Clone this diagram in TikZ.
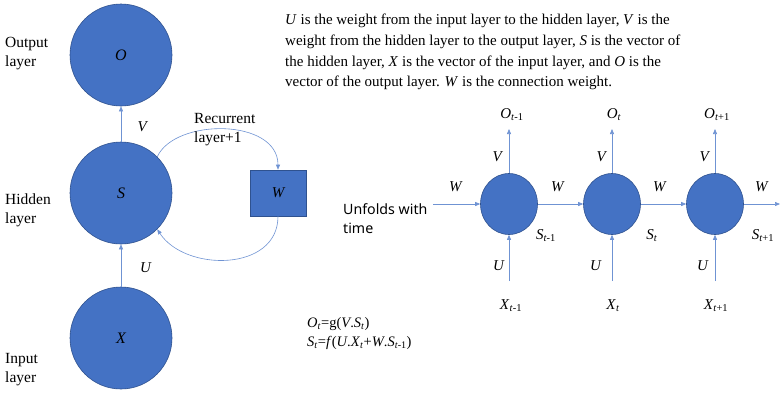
\documentclass[tikz,border=0pt]{standalone}
\usepackage{fontspec}
\setmainfont{Liberation Serif}
\newfontfamily\unfoldfont{Noto Sans}
\usetikzlibrary{arrows.meta,shapes.geometric}
\definecolor{officeblue}{HTML}{4472C4}
\definecolor{officeedge}{HTML}{2F528F}
\definecolor{linkblue}{HTML}{6F93D3}
% variable with time subscript, e.g. \tvar{O}{-1}
\newcommand{\tvar}[2]{\textit{#1}\textsubscript{\textit{t}#2}}

\begin{document}
\begin{tikzpicture}[x=1pt, y=-1pt,
  layer/.style={circle, fill=officeblue, draw=officeedge, line width=0.6pt, minimum size=102pt, inner sep=0pt, font=\itshape\fontsize{16}{18}\selectfont},
  cell/.style={ellipse, fill=officeblue, draw=officeedge, line width=0.6pt, minimum width=57pt, minimum height=61pt, inner sep=0pt},
  weight/.style={rectangle, fill=officeblue, draw=officeedge, line width=0.6pt, minimum width=56pt, minimum height=46pt, font=\itshape\fontsize{15}{17}\selectfont},
  side/.style={anchor=west, align=left, inner sep=0pt, font=\fontsize{15.5}{19}\selectfont},
  lbl/.style={inner sep=0pt, font=\fontsize{15}{17}\selectfont},
  flow/.style={-{Triangle[length=5pt,width=4pt]}, draw=linkblue, line width=0.6pt}
]
\useasboundingbox (0,0) rectangle (780,394);

% Folded network: three layers
\node[layer] (output) at (121,55) {O};
\node[layer] (hidden) at (121,193) {S};
\node[layer] (input) at (121,338) {X};
\node[weight] (wbox) at (278,193) {W};

% Layer names on the left
\node[side] (outname) at (5,54) {Output\\layer};
\node[side] (hidname) at (5,210) {Hidden\\layer};
\node[side] (inname) at (5,370) {Input\\layer};

% Vertical connections
\draw[flow] (hidden.north) -- (output.south);
\draw[flow] (input.north) -- (hidden.south);
\node[lbl] (vlab) at (143,127) {\textit{V}};
\node[lbl] (ulab) at (146,268) {\textit{U}};

% Recurrent loop through W
\draw[flow] (hidden.45) .. controls (175,118) and (278,118) .. (wbox.north);
\draw[flow] (wbox.south) .. controls (278,272) and (185,272) .. (hidden.-45);
\node[side] (reclab) at (194,130) {Recurrent\\layer+1};

% Description
\node[anchor=north west, align=left, inner sep=0pt, font=\fontsize{15}{20.7}\selectfont] (desc) at (285,14)
  {\textit{U} is the weight from the input layer to the hidden layer, \textit{V} is the\\
   weight from the hidden layer to the output layer, \textit{S} is the vector of\\
   the hidden layer, \textit{X} is the vector of the input layer, and \textit{O} is the\\
   vector of the output layer. \textit{W} is the connection weight.};

% Unfolded network
\node[side, font=\unfoldfont\fontsize{14.2}{19}\selectfont] (unfold) at (343,219) {Unfolds with\\time};
\coordinate (wstart) at (433,204);
\coordinate (wend) at (780,204);
\node[cell] (s1) at (509,204) {};
\node[cell] (s2) at (612,204) {};
\node[cell] (s3) at (715,204) {};

\draw[flow] (wstart) -- (s1.west);
\draw[flow] (s1.east) -- (s2.west);
\draw[flow] (s2.east) -- (s3.west);
\draw[flow] (s3.east) -- (wend);
\node[lbl] (w0) at (456,187) {\textit{W}};
\node[lbl] (w1) at (558,187) {\textit{W}};
\node[lbl] (w2) at (660,187) {\textit{W}};
\node[lbl] (w3) at (762,187) {\textit{W}};

% Outputs
\node[lbl] (o1) at (512,115) {\tvar{O}{-1}};
\node[lbl] (o2) at (614,115) {\tvar{O}{}};
\node[lbl] (o3) at (717,115) {\tvar{O}{+1}};
\coordinate (otip1) at (509,129);
\coordinate (otip2) at (612,129);
\coordinate (otip3) at (715,129);
\draw[flow] (s1.north) -- (otip1);
\draw[flow] (s2.north) -- (otip2);
\draw[flow] (s3.north) -- (otip3);
\node[lbl] (v1) at (498,157) {\textit{V}};
\node[lbl] (v2) at (602,157) {\textit{V}};
\node[lbl] (v3) at (705,157) {\textit{V}};

% Inputs
\coordinate (xfoot1) at (509,281);
\coordinate (xfoot2) at (612,281);
\coordinate (xfoot3) at (715,281);
\draw[flow] (xfoot1) -- (s1.south);
\draw[flow] (xfoot2) -- (s2.south);
\draw[flow] (xfoot3) -- (s3.south);
\node[lbl] (u1) at (499,266) {\textit{U}};
\node[lbl] (u2) at (596,266) {\textit{U}};
\node[lbl] (u3) at (703,266) {\textit{U}};
\node[lbl] (x1) at (511,306) {\tvar{X}{-1}};
\node[lbl] (x2) at (613,306) {\tvar{X}{}};
\node[lbl] (x3) at (716,306) {\tvar{X}{+1}};

% Hidden states
\node[lbl] (st1) at (546,236) {\tvar{S}{-1}};
\node[lbl] (st2) at (652,236) {\tvar{S}{}};
\node[lbl] (st3) at (763,236) {\tvar{S}{+1}};

% Equations
\node[anchor=north west, align=left, inner sep=0pt, font=\fontsize{14.5}{19}\selectfont] (eqs) at (307,317)
  {\tvar{O}{}=g(\textit{V}.\tvar{S}{})\\
   \tvar{S}{}=\textit{f}(\textit{U}.\tvar{X}{}+\textit{W}.\tvar{S}{-1})};
\end{tikzpicture}
\end{document}
